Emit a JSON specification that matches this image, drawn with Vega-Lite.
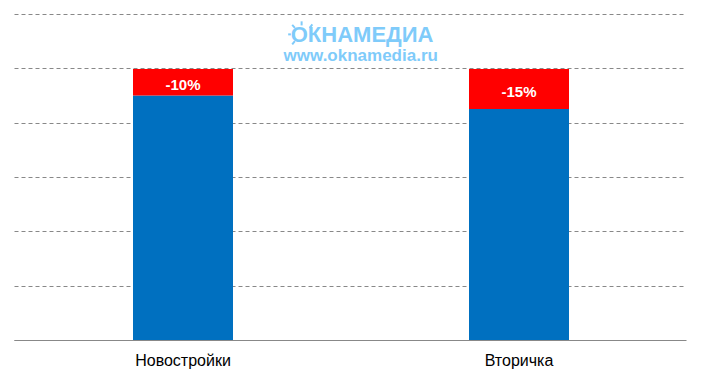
{"$schema":"https://vega.github.io/schema/vega-lite/v6.json","width":672,"height":326,"autosize":{"type":"none"},"padding":{"left":14,"top":14,"right":16,"bottom":38},"background":"white","config":{"view":{"stroke":null},"font":"Liberation Sans"},
"datasets":{"bars":[{"cat":"Новостройки","part":"base","start":0,"end":90},{"cat":"Новостройки","part":"drop","start":90,"end":99.8},{"cat":"Вторичка","part":"base","start":0,"end":85},{"cat":"Вторичка","part":"drop","start":85,"end":99.8}],
"labels":[{"cat":"Новостройки","mid":95,"label":"-10%"},{"cat":"Вторичка","mid":92.5,"label":"-15%"}],
"wm":[{"px":0.518,"py":112.3,"t":"ОКНАМЕДИА","sz":22},{"px":0.516,"py":104.5,"t":"www.oknamedia.ru","sz":17}],
"rays":[{"x1":0.428,"x2":0.428,"y1":117.3,"y2":115.8},{"x1":0.408,"x2":0.412,"y1":112.5,"y2":112.5},{"x1":0.414,"x2":0.418,"y1":116,"y2":114.9},{"x1":0.414,"x2":0.418,"y1":108.8,"y2":110},{"x1":0.444,"x2":0.44,"y1":116.2,"y2":114.9}]},
"layer":[
{"data":{"name":"bars"},"mark":{"type":"bar","width":100,"xOffset":1},"encoding":{"x":{"field":"cat","type":"nominal","sort":["Новостройки","Вторичка"],"scale":{"paddingInner":0,"paddingOuter":0},"axis":{"title":null,"labelAngle":0,"labelFontSize":16,"labelColor":"#000000","labelPadding":12,"labelOffset":1,"ticks":false,"domainColor":"#888888","domainWidth":1,"grid":false}},"y":{"field":"start","type":"quantitative","scale":{"domain":[0,120]},"axis":{"title":null,"values":[0,20,40,60,80,100,120],"labels":false,"ticks":false,"domain":false,"grid":true,"gridColor":"#888888","gridDash":[4,3],"gridWidth":1}},"y2":{"field":"end"},"color":{"field":"part","type":"nominal","scale":{"domain":["base","drop"],"range":["#0070C0","#FF0000"]},"legend":null}}},
{"data":{"name":"labels"},"mark":{"type":"text","fontSize":15,"fontWeight":"bold","color":"#FFFFFF","xOffset":1,"dy":3},"encoding":{"x":{"field":"cat","type":"nominal","sort":["Новостройки","Вторичка"],"axis":null},"y":{"field":"mid","type":"quantitative"},"text":{"field":"label"}}},
{"data":{"name":"wm"},"mark":{"type":"text","fontWeight":"bold","color":"#7FCBFA"},"encoding":{"x":{"field":"px","type":"quantitative","scale":{"domain":[0,1]},"axis":null},"y":{"field":"py","type":"quantitative"},"text":{"field":"t"},"size":{"field":"sz","type":"quantitative","scale":null}}},
{"data":{"name":"rays"},"mark":{"type":"rule","color":"#7FCBFA","strokeWidth":2},"encoding":{"x":{"field":"x1","type":"quantitative","scale":{"domain":[0,1]},"axis":null},"x2":{"field":"x2"},"y":{"field":"y1","type":"quantitative"},"y2":{"field":"y2"}}}
],"resolve":{"scale":{"x":"independent"}}}
